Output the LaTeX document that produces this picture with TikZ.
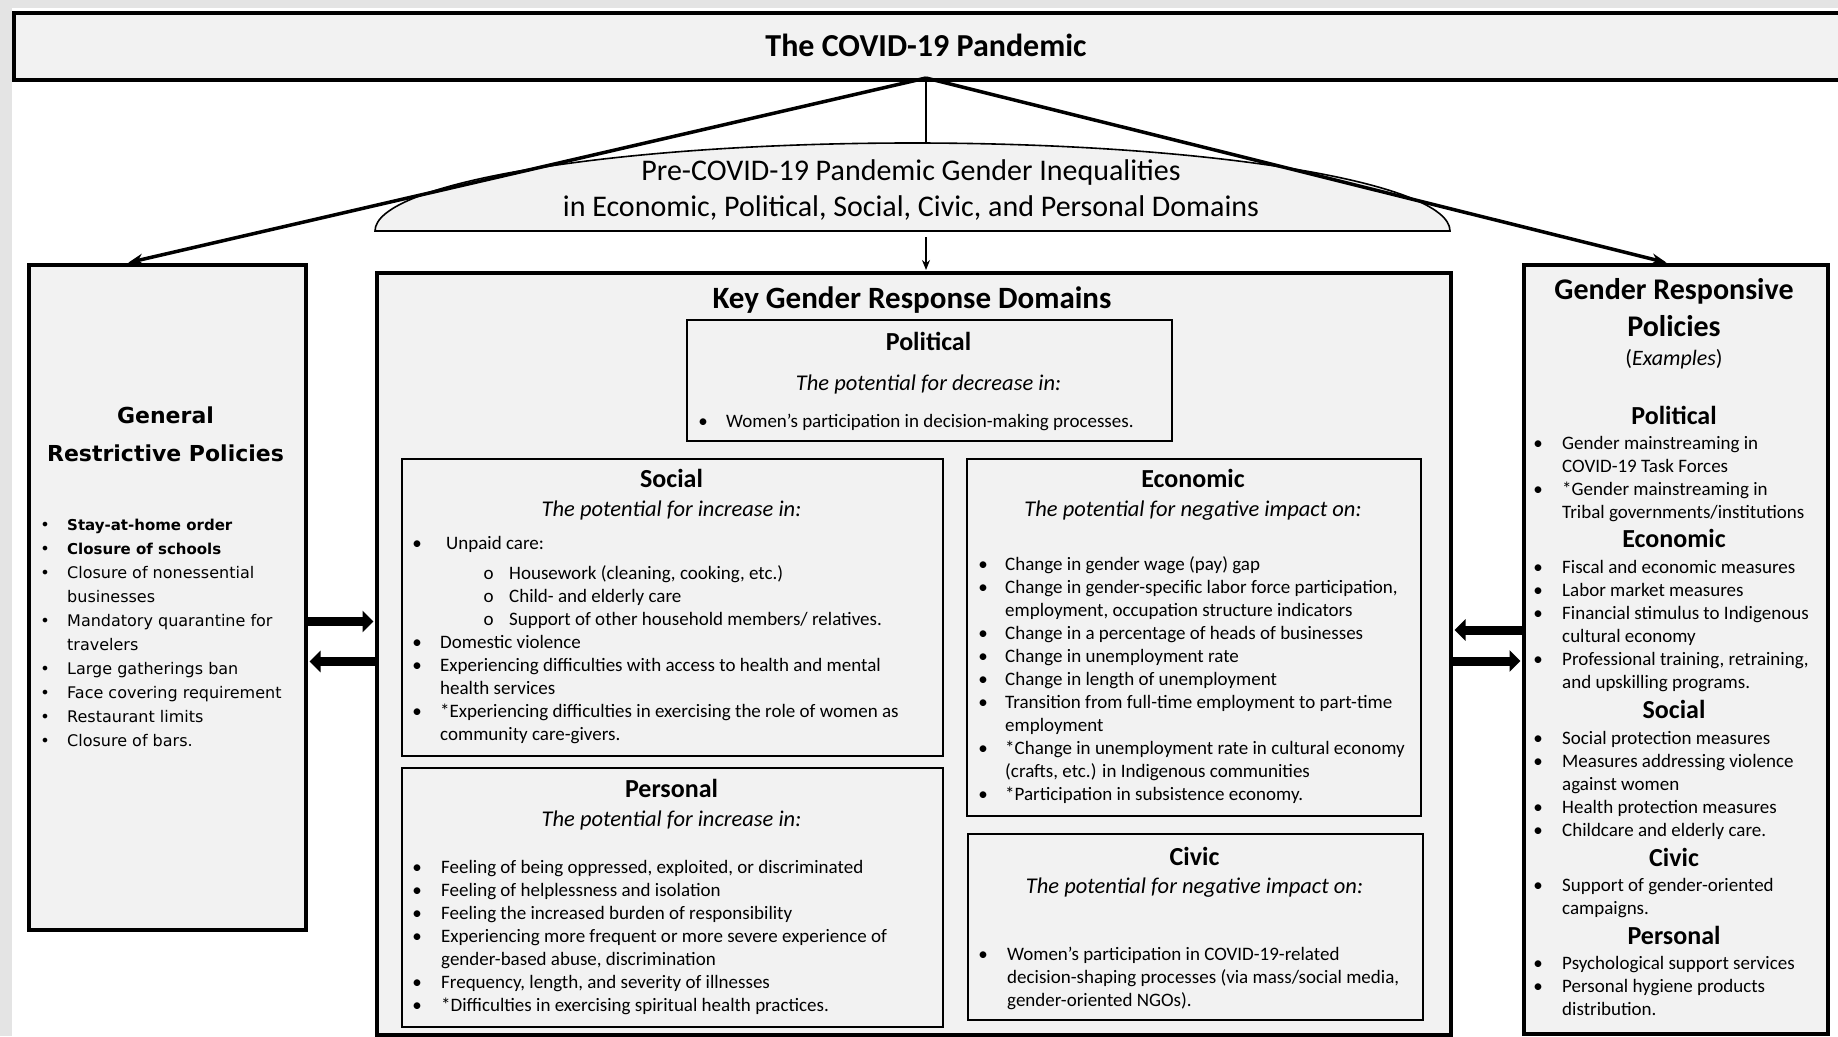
\documentclass[tikz,border=0pt]{standalone}
\usepackage{fontspec}
\setmainfont{Carlito}
\newfontfamily\vfont{DejaVu Sans}
\usetikzlibrary{arrows.meta,calc}
\definecolor{boxgray}{HTML}{F2F2F2}
\definecolor{edgegray}{HTML}{E4E4E4}
\newcommand{\fs}[2]{\fontsize{#1}{#2}\selectfont}
\newcommand{\Bu}[1][23]{\makebox[0pt]{\textbullet}\hspace*{#1pt}}
\newcommand{\Cn}[1][23]{\hspace*{#1pt}}
\newcommand{\Sb}{\hspace*{71.5pt}\makebox[0pt]{o}\hspace*{20.5pt}}
\begin{document}
\begin{tikzpicture}[x=1pt,y=-1pt,
 outerbox/.style={draw=black,line width=4pt,fill=boxgray,inner sep=0pt,anchor=north west},
 innerbox/.style={draw=black,line width=1.8pt,fill=boxgray,inner sep=0pt,anchor=north west},
 head/.style={inner sep=0pt,anchor=base,font={\bfseries\fs{26}{31}}},
 sub/.style={inner sep=0pt,anchor=base,font={\itshape\fs{22.5}{27}}},
 list/.style={inner sep=0pt,anchor=base west,align=left,font={\fs{19}{23}}},
 fan/.style={line width=3.5pt,shorten >=1.5pt,-{Stealth[length=15pt,width=11pt]}},
 thinline/.style={line width=1.5pt},
 block/.style={line width=9pt,shorten >=1.5pt,-{Triangle[length=11pt,width=21pt]}},
]
% note: multi-line nodes are placed by the baseline of their LAST line
\useasboundingbox (0,0) rectangle (1838,1036);
\fill[white] (0,0) rectangle (1838,1036);
\fill[edgegray] (0,0) rectangle (12,1036);
\fill[edgegray] (0,0) rectangle (1838,8);

% title (runs past the right edge, as in the reference)
\begin{scope}
\clip (0,0) rectangle (1838,1036);
\node[outerbox,minimum width=1850pt,minimum height=67pt] (title) at (12,11) {};
\end{scope}
\coordinate (apex) at (926,78);
\node[inner sep=0pt,anchor=base,font={\bfseries\fs{32}{38}}] (titletext) at (926,56) {The COVID-19 Pandemic};

% dome
\draw[fill=boxgray,line width=1.6pt] (375,231) arc[start angle=180,end angle=0,x radius=537.5pt,y radius=88pt] -- cycle;
\coordinate (domeN) at (926,143);
\coordinate (domeS) at (926,237);
\node[inner sep=0pt,anchor=base,align=center,font={\fs{30}{36}}] (dometext) at (911,216) {Pre-COVID-19 Pandemic Gender Inequalities\\in Economic, Political, Social, Civic, and Personal Domains};

% left box
\node[outerbox,minimum width=277pt,minimum height=665pt] (lbox) at (27,263) {};
\node[inner sep=0pt,anchor=base,align=center,font={\vfont\bfseries\fs{22}{38}}] (lhead) at (165.5,461) {General\\Restrictive Policies};
\node[inner sep=0pt,anchor=base west,align=left,font={\vfont\fs{16}{24}}] (llist) at (45,746) {%
\Bu[22]{\fs{15}{24}\bfseries Stay-at-home order}\\
\Bu[22]{\fs{15}{24}\bfseries Closure of schools}\\
\Bu[22]Closure of nonessential\\
\Cn[22]businesses\\
\Bu[22]Mandatory quarantine for\\
\Cn[22]travelers\\
\Bu[22]Large gatherings ban\\
\Bu[22]Face covering requirement\\
\Bu[22]Restaurant limits\\
\Bu[22]Closure of bars.};

% key domains
\node[outerbox,minimum width=1074pt,minimum height=762pt] (kgrd) at (375,271) {};
\node[inner sep=0pt,anchor=base,font={\bfseries\fs{31}{37}}] (kgrdtitle) at (912,308) {Key Gender Response Domains};

% political
\node[innerbox,minimum width=485pt,minimum height=121pt] (pol) at (686,319) {};
\node[head] (polh) at (928.5,350) {Political};
\node[sub] (pols) at (928.5,390) {The potential for decrease in:};
\node[list] (poll) at (703,427) {\Bu Women’s participation in decision-making processes.};

% social
\node[innerbox,minimum width=541pt,minimum height=297pt] (soc) at (401,458) {};
\node[head] (soch) at (671.5,487) {Social};
\node[sub] (socs) at (671.5,516) {The potential for increase in:};
\node[list] (socl) at (417,740) {%
\Bu[29]Unpaid care:\\[7pt]
\Sb Housework (cleaning, cooking, etc.)\\
\Sb Child- and elderly care\\
\Sb Support of other household members/ relatives.\\
\Bu Domestic violence\\
\Bu Experiencing difficulties with access to health and mental\\
\Cn health services\\
\Bu *Experiencing difficulties in exercising the role of women as\\
\Cn community care-givers.};

% personal
\node[innerbox,minimum width=541pt,minimum height=259pt] (per) at (401,767) {};
\node[head] (perh) at (671.5,797) {Personal};
\node[sub] (pers) at (671.5,826) {The potential for increase in:};
\node[list] (perl) at (417,1011) {%
\Bu[24]Feeling of being oppressed, exploited, or discriminated\\
\Bu[24]Feeling of helplessness and isolation\\
\Bu[24]Feeling the increased burden of responsibility\\
\Bu[24]Experiencing more frequent or more severe experience of\\
\Cn[24]gender-based abuse, discrimination\\
\Bu[24]Frequency, length, and severity of illnesses\\
\Bu[24]*Difficulties in exercising spiritual health practices.};

% economic
\node[innerbox,minimum width=454pt,minimum height=357pt] (eco) at (966,458) {};
\node[head] (ecoh) at (1193,487) {Economic};
\node[sub] (ecos) at (1193,516) {The potential for negative impact on:};
\node[list] (ecol) at (983,800) {%
\Bu[22]Change in gender wage (pay) gap\\
\Bu[22]Change in gender-specific labor force participation,\\
\Cn[22]employment, occupation structure indicators\\
\Bu[22]Change in a percentage of heads of businesses\\
\Bu[22]Change in unemployment rate\\
\Bu[22]Change in length of unemployment\\
\Bu[22]Transition from full-time employment to part-time\\
\Cn[22]employment\\
\Bu[22]*Change in unemployment rate in cultural economy\\
\Cn[22](crafts, etc.) in Indigenous communities\\
\Bu[22]*Participation in subsistence economy.};

% civic
\node[innerbox,minimum width=455pt,minimum height=186pt] (civ) at (967,833) {};
\node[head] (civh) at (1194.5,865) {Civic};
\node[sub] (civs) at (1194.5,893) {The potential for negative impact on:};
\node[list] (civl) at (983,1006) {%
\Bu[24]Women’s participation in COVID-19-related\\
\Cn[24]decision-shaping processes (via mass/social media,\\
\Cn[24]gender-oriented NGOs).};

% right box
\node[outerbox,minimum width=304pt,minimum height=769pt] (rbox) at (1522,263) {};
\node[inner sep=0pt,anchor=base,align=center,font={\bfseries\fs{30}{37}}] (rtitle) at (1674,336) {Gender Responsive\\Policies};
\node[inner sep=0pt,anchor=base,font={\fs{22}{26}}] (rex) at (1674,365) {(\textit{Examples})};
\node[head] (rpolh) at (1674,424) {Political};
\node[list] (rpoll) at (1538,518) {%
\Bu[24]Gender mainstreaming in\\
\Cn[24]COVID-19 Task Forces\\
\Bu[24]*Gender mainstreaming in\\
\Cn[24]Tribal governments/institutions};
\node[head] (recoh) at (1674,547) {Economic};
\node[list] (recol) at (1538,688) {%
\Bu[24]Fiscal and economic measures\\
\Bu[24]Labor market measures\\
\Bu[24]Financial stimulus to Indigenous\\
\Cn[24]cultural economy\\
\Bu[24]Professional training, retraining,\\
\Cn[24]and upskilling programs.};
\node[head] (rsoch) at (1674,718) {Social};
\node[list] (rsocl) at (1538,836) {%
\Bu[24]Social protection measures\\
\Bu[24]Measures addressing violence\\
\Cn[24]against women\\
\Bu[24]Health protection measures\\
\Bu[24]Childcare and elderly care.};
\node[head] (rcivh) at (1674,866) {Civic};
\node[list] (rcivl) at (1538,914) {%
\Bu[24]Support of gender-oriented\\
\Cn[24]campaigns.};
\node[head] (rperh) at (1674,944) {Personal};
\node[list] (rperl) at (1538,1015) {%
\Bu[24]Psychological support services\\
\Bu[24]Personal hygiene products\\
\Cn[24]distribution.};

% connectors
\draw[fan] (apex) -- ($(lbox.north west)!0.355!(lbox.north east)$);
\draw[fan] (apex) -- ($(rbox.north west)!0.474!(rbox.north east)$);
\draw[thinline] (apex) -- (domeN);
\draw[thinline,shorten >=1pt,-{Stealth[length=10pt,width=8pt]}] (domeS) -- (domeS |- kgrd.north);

\coordinate (ya) at (0,621.5);
\coordinate (yb) at (0,661.5);
\coordinate (yc) at (0,630);
\coordinate (yd) at (0,661);
\draw[block] (lbox.east |- ya) -- (kgrd.west |- ya);
\draw[block] (kgrd.west |- yb) -- (lbox.east |- yb);
\draw[block] (rbox.west |- yc) -- (kgrd.east |- yc);
\draw[block] (kgrd.east |- yd) -- (rbox.west |- yd);
\end{tikzpicture}
\end{document}
